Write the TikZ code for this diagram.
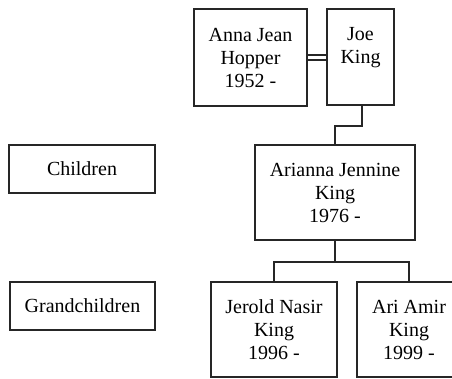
\documentclass[tikz,border=0pt]{standalone}
\usepackage{fontspec}
\setmainfont{Liberation Serif}
\usetikzlibrary{positioning}
\tikzset{
	personbox/.style={draw=black!85,line width=1.4pt,rectangle,align=center,inner sep=0pt,font=\fontsize{20}{23}\selectfont},
	labelbox/.style={personbox,minimum width=146pt,minimum height=48pt},
	tree/.style={draw=black!85,line width=1.4pt}
}
\begin{document}
\begin{tikzpicture}[x=1pt,y=-1pt]
	\clip (0,0) rectangle (452,378);
	\fill[white] (0,0) rectangle (452,378);
	\node (anna) at (250.5,57.5) [personbox,minimum width=113pt,minimum height=97pt]{Anna Jean\\Hopper\\1952 -};
	\node (joe) at (360.5,57) [personbox,minimum width=67pt,minimum height=96pt]{Joe\\King\\~};
	\node (children) at (82,169) [labelbox]{Children};
	\node (arianna) at (335,192.5) [personbox,minimum width=160pt,minimum height=95pt]{Arianna Jennine\\King\\1976 -};
	\node (grandchildren) at (82.5,306) [labelbox,minimum width=145pt]{Grandchildren};
	\node (jerold) at (274,329.5) [personbox,minimum width=126pt,minimum height=95pt]{Jerold Nasir\\King\\1996 -};
	\node (ari) at (409,329.5) [personbox,minimum width=104pt,minimum height=95pt]{Ari Amir\\King\\1999 -};
	\coordinate (marriage) at (362,126);
	\coordinate (split) at (335,262);
	\draw [tree] ([yshift=2.6pt]anna.east) -- ([yshift=2.6pt]anna.east -| joe.west);
	\draw [tree] ([yshift=-2.6pt]anna.east) -- ([yshift=-2.6pt]anna.east -| joe.west);
	\draw [tree] (joe.south -| marriage) -- (marriage) -| (arianna.north);
	\draw [tree] (arianna.south) -- (split);
	\draw [tree] (split) -| (jerold.north);
	\draw [tree] (split) -| (ari.north);
\end{tikzpicture}
\end{document}
